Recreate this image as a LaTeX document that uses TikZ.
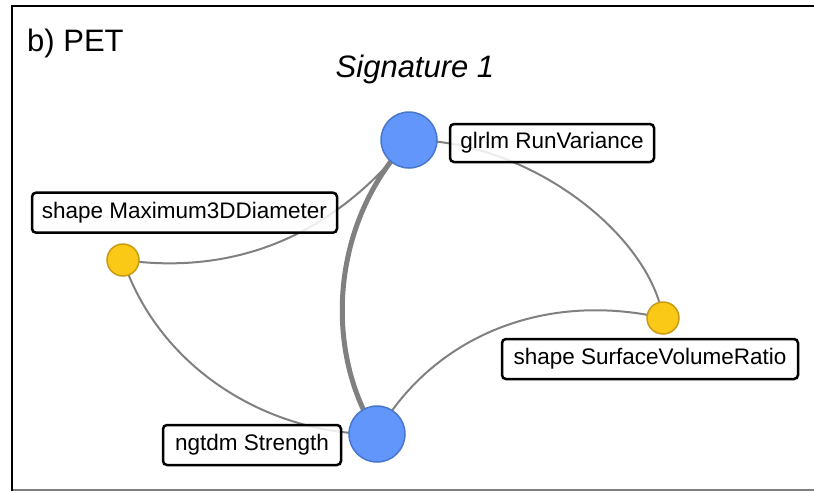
\documentclass[tikz,border=0pt]{standalone}
\usepackage{fontspec}
\setmainfont{Liberation Sans}
\usetikzlibrary{backgrounds}
\definecolor{nodeblue}{RGB}{98,150,250}
\definecolor{blueedge}{RGB}{72,118,205}
\definecolor{nodeyellow}{RGB}{250,200,22}
\definecolor{yellowedge}{RGB}{200,155,20}
\definecolor{edgegray}{RGB}{128,128,128}
\tikzset{
  bignode/.style={circle,fill=nodeblue,draw=blueedge,line width=1.5pt,minimum size=56pt,inner sep=0pt},
  smallnode/.style={circle,fill=nodeyellow,draw=yellowedge,line width=1.5pt,minimum size=32pt,inner sep=0pt},
  labelbox/.style={draw=black,line width=2.5pt,rounded corners=4pt,fill=white,fill opacity=0.85,text opacity=1,inner sep=0pt,font=\fontsize{22.5}{27}\selectfont},
  link/.style={draw=edgegray,line width=2pt},
  thicklink/.style={draw=edgegray,line width=5pt},
  titletext/.style={inner sep=0pt,font=\fontsize{31}{37}\selectfont}
}
\begin{document}
\begin{tikzpicture}[x=1pt,y=-1pt]
\useasboundingbox (0,0) rectangle (814,491);
% frame
\draw[line width=1.5pt,edgegray] (12,490) -- (814,490);
\draw[line width=2.5pt,black] (12,491) -- (12,6) -- (814,6);
% titles
\node[titletext,anchor=base west] (title) at (27,51) {b) PET};
\node[titletext,anchor=base,font=\fontsize{31}{37}\selectfont\itshape] (sig) at (415,77) {Signature 1};
% nodes
\node[bignode] (g) at (409,140) {};
\node[bignode] (n) at (377,434) {};
\node[smallnode] (m) at (123,260) {};
\node[smallnode] (s) at (663,318) {};
% edges
\begin{scope}[on background layer]
\draw[thicklink] (g.center) .. controls (328,225) and (325,355) .. (n.center);
\draw[link] (m.center) .. controls (230,275) and (330,240) .. (g.center);
\draw[link] (g.center) .. controls (530,140) and (650,235) .. (s.center);
\draw[link] (m.center) .. controls (160,370) and (270,435) .. (n.center);
\draw[link] (n.center) .. controls (430,340) and (540,290) .. (s.center);
\end{scope}
% labels
\node[labelbox,minimum width=204pt,minimum height=38pt] (gl) at (552,143) {glrlm RunVariance};
\node[labelbox,minimum width=305pt,minimum height=40pt] (ml) at (184.5,212.7) {shape Maximum3DDiameter};
\node[labelbox,minimum width=296pt,minimum height=40pt] (sl) at (650,359) {shape SurfaceVolumeRatio};
\node[labelbox,minimum width=178pt,minimum height=40pt] (nl) at (252,445) {ngtdm Strength};
\end{tikzpicture}
\end{document}
